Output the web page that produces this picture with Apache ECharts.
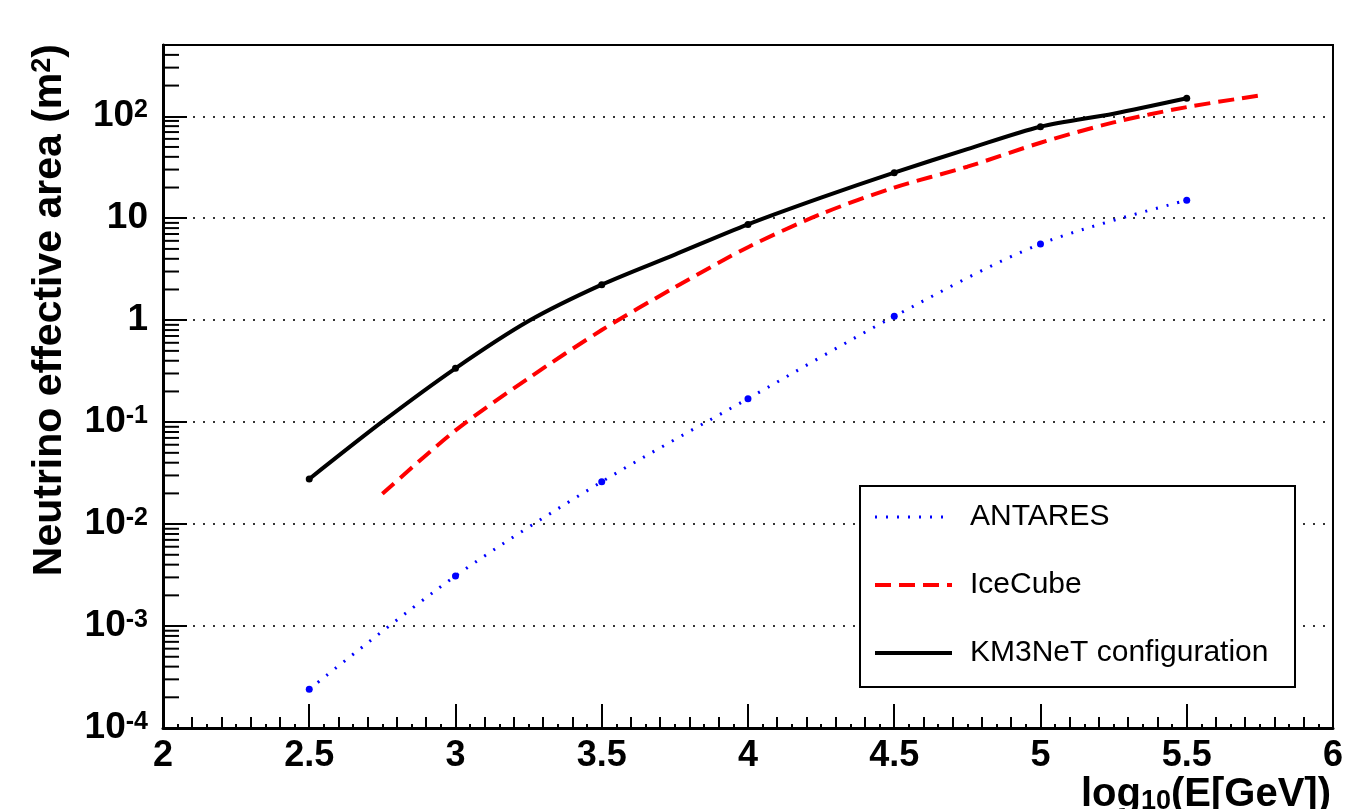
<!DOCTYPE html>
<html>
<head>
<meta charset="utf-8">
<title>Neutrino effective area</title>
<script src="https://cdn.jsdelivr.net/npm/echarts@6/dist/echarts.min.js"></script>
<style>
  html, body { margin: 0; padding: 0; background: #fff; }
  #chart { width: 1346px; height: 809px; }
</style>
</head>
<body>
<div id="chart"></div>
<script>
// log10(E/GeV) and effective area (m^2)
const antaresX = [2.5, 3.0, 3.5, 4.0, 4.5, 5.0, 5.5]
const antaresY = [2.4e-4, 3.1e-3, 0.026, 0.17, 1.09, 5.6, 15]

const icecubeX = [2.75, 3.0, 3.25, 3.5, 3.75, 4.0, 4.25, 4.5, 4.75, 5.0, 5.25, 5.5, 5.75]
const icecubeY = [0.0198, 0.083, 0.27, 0.8, 2.1, 5.2, 11, 20, 32, 55, 87, 123, 160]

const km3netX = [2.5, 2.75, 3.0, 3.25, 3.5, 3.75, 4.0, 4.25, 4.5, 4.75, 5.0, 5.25, 5.5]
const km3netY = [0.0277, 0.101, 0.337, 0.98, 2.23, 4.4, 8.7, 15.9, 28, 47.6, 79, 106, 150]

// which points carry a marker in the original (the 0.5 steps)
const markerX = [2.5, 3.0, 3.5, 4.0, 4.5, 5.0, 5.5]

const seriesNames = ['ANTARES', 'IceCube', 'KM3NeT configuration']

// y minor ticks 2..9 in every decade
const yMinorTicks = []
for (let d = -4; d <= 2; d++) {
  for (let k = 2; k <= 9; k++) {
    const v = k * Math.pow(10, d)
    if (v <= 500) yMinorTicks.push(v)
  }
}

const FONT = 'Liberation Sans, Arial, Helvetica, sans-serif'

const blueLine = { color: '#0000ff', width: 3, type: [2, 9] }
const redLine = { color: '#ff0000', width: 4, type: [16, 8] }
const blackLine = { color: '#000', width: 4, type: 'solid' }

const toData = (xs, ys, withMarkers) => xs.map((x, i) => {
  const item = { value: [x, ys[i]] }
  if (withMarkers && markerX.includes(x)) {
    item.symbol = 'circle'
    item.symbolSize = 7
  }
  return item
})

const chart = echarts.init(document.getElementById('chart'))

const option = {
  backgroundColor: '#fff',
  animation: false,
  grid: {
    left: 163, right: 13, top: 45, bottom: 81, z: 10,
    show: true, borderColor: '#000', borderWidth: 2, backgroundColor: 'transparent'
  },
  xAxis: [
    {
      type: 'value', min: 2, max: 6, interval: 0.5,
      axisLine: { show: true, onZero: false, lineStyle: { color: '#000', width: 3 } },
      axisTick: { show: true, inside: true, length: 24, lineStyle: { color: '#000', width: 2 } },
      minorTick: { show: true, splitNumber: 5, length: 11, lineStyle: { color: '#000', width: 2 } },
      splitLine: { show: false },
      axisLabel: {
        margin: 10, color: '#000', fontFamily: FONT, fontWeight: 'bold', fontSize: 36,
        formatter: v => String(+v.toFixed(2))
      }
    },
    {
      // finest tick level (every 0.05)
      type: 'value', min: 2, max: 6, interval: 0.05, position: 'bottom',
      axisLine: { show: false },
      axisTick: { show: true, inside: true, length: 4, lineStyle: { color: '#000', width: 2 } },
      axisLabel: { show: false },
      splitLine: { show: false }
    }
  ],
  yAxis: {
    type: 'log', logBase: 10, min: 1e-4, max: 500, interval: 1,
    axisLine: { show: true, onZero: false, lineStyle: { color: '#000', width: 3 } },
    axisTick: { show: true, inside: true, length: 24, lineStyle: { color: '#000', width: 2 } },
    splitLine: { show: true, lineStyle: { color: '#333', width: 2, type: [2, 8] } },
    axisLabel: {
      margin: 15, color: '#000', fontFamily: FONT, fontWeight: 'bold', fontSize: 37,
      formatter: v => {
        const e = Math.round(Math.log10(v))
        if (Math.abs(Math.log10(v) - e) > 1e-6) return ''
        if (e === 0) return '1'
        if (e === 1) return '10'
        return '{b|10}{s|' + e + '}'
      },
      rich: {
        b: { fontFamily: FONT, fontWeight: 'bold', fontSize: 37, color: '#000' },
        s: { fontFamily: FONT, fontWeight: 'bold', fontSize: 25, color: '#000', verticalAlign: 'top' }
      }
    }
  },
  legend: {
    orient: 'vertical',
    left: 873, top: 502,
    data: [
      { name: seriesNames[0], lineStyle: blueLine },
      { name: seriesNames[1], lineStyle: redLine },
      { name: seriesNames[2], lineStyle: blackLine }
    ],
    itemWidth: 77, itemHeight: 14, itemGap: 38,
    padding: 0,
    itemStyle: { opacity: 0 },
    textStyle: { fontFamily: FONT, fontSize: 30, color: '#000', lineHeight: 30, padding: [0, 0, 0, 13] },
    z: 12
  },
  graphic: [
    {
      type: 'rect', z: 11,
      shape: { x: 860, y: 486, width: 435, height: 201 },
      style: { fill: '#fff', stroke: '#000', lineWidth: 2 }
    },
    {
      type: 'text', z: 5,
      x: 70, y: 44, rotation: Math.PI / 2,
      style: {
        text: '{a|Neutrino effective area (m}{s|2}{a|)}',
        textAlign: 'right', textVerticalAlign: 'bottom',
        rich: {
          a: { fontFamily: FONT, fontWeight: 'bold', fontSize: 41, fill: '#000' },
          s: { fontFamily: FONT, fontWeight: 'bold', fontSize: 27, fill: '#000', verticalAlign: 'top' }
        }
      }
    },
    {
      type: 'text', z: 5,
      x: 1331, y: 775,
      style: {
        text: '{a|log}{s|10}{a|(E[GeV])}',
        textAlign: 'right', textVerticalAlign: 'top',
        rich: {
          a: { fontFamily: FONT, fontWeight: 'bold', fontSize: 40, fill: '#000' },
          s: { fontFamily: FONT, fontWeight: 'bold', fontSize: 27, fill: '#000', verticalAlign: 'bottom' }
        }
      }
    }
  ],
  series: [
    {
      name: seriesNames[0], type: 'line', smooth: 0.3,
      symbol: 'none',
      itemStyle: { color: '#0000ff' },
      lineStyle: blueLine,
      data: toData(antaresX, antaresY, true),
      z: 3
    },
    {
      name: seriesNames[1], type: 'line', smooth: 0.3,
      symbol: 'none',
      itemStyle: { color: '#ff0000' },
      lineStyle: redLine,
      data: toData(icecubeX, icecubeY, false),
      z: 3
    },
    {
      name: seriesNames[2], type: 'line', smooth: 0.3,
      symbol: 'none',
      itemStyle: { color: '#000' },
      lineStyle: blackLine,
      data: toData(km3netX, km3netY, true),
      z: 3
    },
    {
      // y minor ticks drawn through the axis scale
      type: 'custom', silent: true, z: 4,
      data: yMinorTicks.map(v => [2, v]),
      encode: { x: 0, y: 1 },
      renderItem: (params, api) => {
        const p = api.coord([api.value(0), api.value(1)])
        return {
          type: 'line',
          shape: { x1: p[0], y1: p[1], x2: p[0] + 16, y2: p[1] },
          style: { stroke: '#000', lineWidth: 2 }
        }
      }
    }
  ]
}

chart.setOption(option)
window.addEventListener('resize', () => chart.resize())
</script>
</body>
</html>
